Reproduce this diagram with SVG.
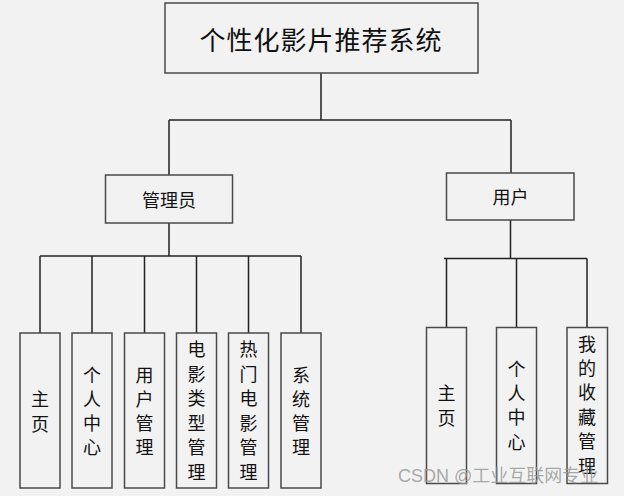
<svg xmlns="http://www.w3.org/2000/svg" width="624" height="496" viewBox="0 0 624 496">
<style>
.box{fill:#f2f2f2;stroke:#4a4a4a;stroke-width:1.5}
.ln{fill:none;stroke:#222;stroke-width:1.5}
.t{font-family:"Noto Sans CJK SC","Noto Sans",sans-serif;fill:#111;text-anchor:middle;dominant-baseline:central}
.v{font-size:18px}
</style>
<rect x="0" y="0" width="624" height="496" fill="#f2f2f2"/>
<g id="connectors">
<path class="ln" d="M321,73 V120 M169,120 H511 M169,120 V175 M511,120 V173"/>
<path class="ln" d="M169,223 V256 M40,256 H301 M40,256 V333 M92,256 V333 M144.5,256 V333 M196.5,256 V333 M248.5,256 V333 M301,256 V333"/>
<path class="ln" d="M510.5,220 V258.5 M444,258.5 H587 M446.5,258.5 V327.5 M516.5,258.5 V327.5 M587,258.5 V327.5"/>
</g>
<g id="root"><rect class="box" x="165" y="3" width="313" height="70"/><text class="t" x="321" y="38" font-size="26" letter-spacing="1">个性化影片推荐系统</text></g>
<g id="admin"><rect class="box" x="105.5" y="175" width="127" height="48"/><text class="t" x="169" y="199" font-size="18">管理员</text></g>
<g id="user"><rect class="box" x="446.5" y="173" width="127.5" height="47"/><text class="t" x="510.5" y="196" font-size="18">用户</text></g>
<g id="a1"><rect class="box" x="20" y="333" width="40" height="155"/><text class="t v" x="40"><tspan x="40" y="398">主</tspan><tspan x="40" y="423">页</tspan></text></g>
<g id="a2"><rect class="box" x="72" y="333" width="40" height="155"/><text class="t v"><tspan x="92" y="374">个</tspan><tspan x="92" y="398">人</tspan><tspan x="92" y="422">中</tspan><tspan x="92" y="446">心</tspan></text></g>
<g id="a3"><rect class="box" x="124.5" y="333" width="40" height="155"/><text class="t v"><tspan x="144.5" y="374">用</tspan><tspan x="144.5" y="398">户</tspan><tspan x="144.5" y="422">管</tspan><tspan x="144.5" y="446">理</tspan></text></g>
<g id="a4"><rect class="box" x="176.5" y="333" width="40" height="155"/><text class="t v"><tspan x="196.5" y="348">电</tspan><tspan x="196.5" y="372.5">影</tspan><tspan x="196.5" y="397">类</tspan><tspan x="196.5" y="421.5">型</tspan><tspan x="196.5" y="446">管</tspan><tspan x="196.5" y="470.5">理</tspan></text></g>
<g id="a5"><rect class="box" x="228.5" y="333" width="40" height="155"/><text class="t v"><tspan x="248.5" y="348">热</tspan><tspan x="248.5" y="372.5">门</tspan><tspan x="248.5" y="397">电</tspan><tspan x="248.5" y="421.5">影</tspan><tspan x="248.5" y="446">管</tspan><tspan x="248.5" y="470.5">理</tspan></text></g>
<g id="a6"><rect class="box" x="281" y="333" width="40" height="155"/><text class="t v"><tspan x="301" y="374">系</tspan><tspan x="301" y="398">统</tspan><tspan x="301" y="422">管</tspan><tspan x="301" y="446">理</tspan></text></g>
<g id="u1"><rect class="box" x="426.5" y="327.5" width="40" height="156"/><text class="t v"><tspan x="446.5" y="392">主</tspan><tspan x="446.5" y="417">页</tspan></text></g>
<g id="u2"><rect class="box" x="496.5" y="327.5" width="40" height="156"/><text class="t v"><tspan x="516.5" y="368">个</tspan><tspan x="516.5" y="392">人</tspan><tspan x="516.5" y="416">中</tspan><tspan x="516.5" y="441">心</tspan></text></g>
<g id="u3"><rect class="box" x="567" y="327.5" width="40.5" height="156"/><text class="t v"><tspan x="587" y="343">我</tspan><tspan x="587" y="367">的</tspan><tspan x="587" y="391">收</tspan><tspan x="587" y="416">藏</tspan><tspan x="587" y="440">管</tspan><tspan x="587" y="465">理</tspan></text></g>
<text x="398" y="482" font-family="Liberation Sans,'Noto Sans CJK SC',sans-serif" font-size="18" fill="#9a9a9a" fill-opacity="0.85">CSDN @工业互联网专业</text>
</svg>
